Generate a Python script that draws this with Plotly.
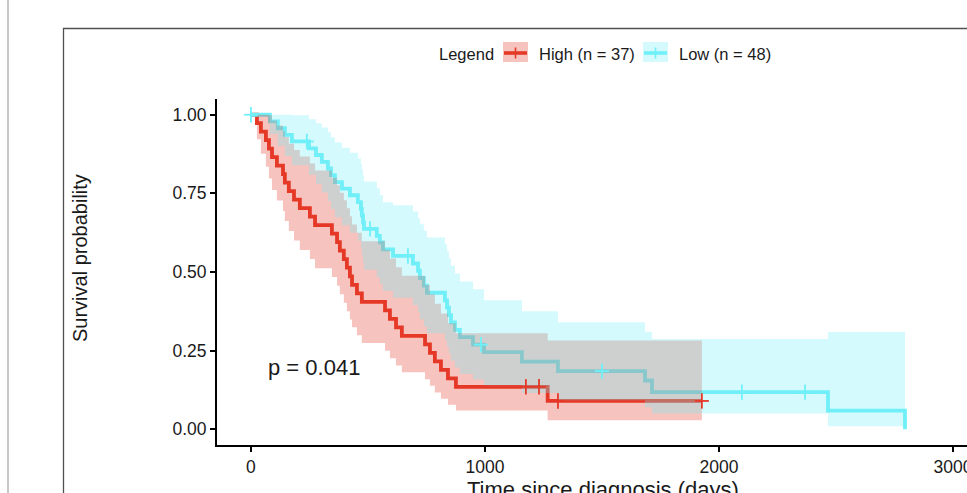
import plotly.graph_objects as go

# ---------------- data ----------------
# High group (n = 37): event times (days), survival after each step, 95% band
high_time = [0, 25.6, 42.7, 64, 77, 90, 111, 137, 145, 162, 184, 209, 252, 274, 346, 368,
             380, 397, 410, 423, 432, 453, 474, 573, 594, 620, 645, 744, 765, 786, 812,
             842, 876, 1268]
high_surv = [1, .973, .946, .919, .892, .865, .838, .811, .784, .757, .730, .703, .676, .649,
             .622, .595, .568, .541, .514, .486, .459, .432, .405, .378, .351, .324, .297,
             .270, .243, .216, .189, .162, .135, .090]
high_upper = [1, 1, 1, 1, .998, .982, .966, .948, .929, .908, .888, .867, .845, .823, .800,
              .776, .752, .728, .703, .677, .651, .625, .598, .571, .543, .515, .488, .459,
              .429, .399, .368, .337, .305, .282]
high_lower = [1, .922, .876, .835, .797, .761, .727, .694, .662, .630, .600, .570, .541, .512,
              .484, .456, .429, .402, .375, .349, .324, .299, .274, .250, .226, .203, .181,
              .159, .138, .117, .097, .078, .060, .029]
high_censor = [1175, 1231, 1312, 1927]

# Low group (n = 48)
low_time = [0, 81, 115, 145, 175, 248, 278, 303, 329, 342, 359, 389, 423, 457, 470, 474, 479,
            483, 538, 551, 564, 607, 692, 714, 722, 739, 752, 829, 838, 846, 855, 872, 893,
            949, 996, 1158, 1312, 1684, 1714, 2466, 2795]
low_surv = [1.0, .979, .957, .936, .915, .893, .872, .850, .829, .808, .786, .765, .744, .722,
            .701, .680, .658, .637, .615, .594, .572, .551, .527, .504, .481, .457, .434, .410,
            .387, .363, .340, .316, .293, .269, .245, .215, .185, .155, .118, .059, 0.0]
low_upper = [1, 1, 1, 1, .998, .986, .973, .959, .944, .928, .912, .895, .879, .861, .843, .825,
             .806, .788, .766, .744, .722, .712, .692, .672, .652, .631, .610, .588, .566, .543,
             .520, .495, .470, .445, .410, .375, .340, .310, .287, .309, .309]
low_lower = [1, .939, .901, .869, .839, .809, .780, .753, .726, .700, .674, .649, .625, .600,
             .576, .553, .529, .507, .483, .462, .440, .418, .395, .372, .350, .327, .305, .283,
             .262, .240, .218, .196, .176, .158, .140, .115, .092, .070, .050, .010, .010]
low_censor = [0, 239, 509, 671, 983, 1500, 2098, 2368]

group_names = ["High (n = 37)", "Low (n = 48)"]
x_ticks = [0, 1000, 2000, 3000]
y_ticks = [0, 0.25, 0.5, 0.75, 1.0]
y_ticktext = ["0.00", "0.25", "0.50", "0.75", "1.00"]
p_text = "p = 0.041"

# ---------------- styling ----------------
RED = "rgb(229,57,40)"
CYAN = "rgb(112,240,248)"
RED_FILL = "rgba(229,57,40,0.30)"
CYAN_FILL = "rgba(112,240,248,0.30)"
FONT = "Liberation Sans, Arial, Helvetica, sans-serif"
TXT = "#1a1a1a"


def extend(times, vals, censor):
    end = max(max(times), max(censor))
    if end > times[-1]:
        return list(times) + [end], list(vals) + [vals[-1]]
    return list(times), list(vals)


def step_at(times, vals, t):
    v = vals[0]
    for ti, vi in zip(times, vals):
        if ti <= t:
            v = vi
    return v


fig = go.Figure()

groups = [
    (high_time, high_surv, high_upper, high_lower, high_censor, RED, RED_FILL),
    (low_time, low_surv, low_upper, low_lower, low_censor, CYAN, CYAN_FILL),
]

# survival step lines (drawn first, ribbons go on top as in ggsurvplot)
for (t, s, u, l, c, col, fcol), name in zip(groups, group_names):
    xt, ys = extend(t, s, c)
    fig.add_trace(go.Scatter(x=xt, y=ys, mode="lines", line=dict(color=col, width=3.8, shape="hv"),
                             name=name, showlegend=False, hoverinfo="skip"))

# confidence ribbons
for (t, s, u, l, c, col, fcol), name in zip(groups, group_names):
    xt, yl = extend(t, l, c)
    _, yu = extend(t, u, c)
    fig.add_trace(go.Scatter(x=xt, y=yl, mode="lines", line=dict(width=0, shape="hv", color=fcol),
                             showlegend=False, hoverinfo="skip"))
    fig.add_trace(go.Scatter(x=xt, y=yu, mode="lines", line=dict(width=0, shape="hv", color=fcol),
                             fill="tonexty", fillcolor=fcol, showlegend=False, hoverinfo="skip"))

# censor marks
for (t, s, u, l, c, col, fcol), name in zip(groups, group_names):
    ys = [step_at(t, s, ci) for ci in c]
    fig.add_trace(go.Scatter(x=c, y=ys, mode="markers",
                             marker=dict(symbol="line-ns", size=11, line=dict(color=col, width=1.8)),
                             showlegend=False, hoverinfo="skip"))
    fig.add_trace(go.Scatter(x=c, y=ys, mode="markers",
                             marker=dict(symbol="line-ew", size=10, line=dict(color=col, width=1.8)),
                             showlegend=False, hoverinfo="skip"))

# ---------------- manual legend (ggplot style keys) ----------------
shapes = []
annotations = []


def px2paper_x(px):
    return (px - 217) / 750.0


def px2paper_y(py):
    return (445 - py) / 346.0


keys = [(503, 528, RED, RED_FILL, 537, group_names[0]), (643, 668, CYAN, CYAN_FILL, 677, group_names[1])]
for x0, x1, col, fcol, tx, label in keys:
    shapes.append(dict(type="rect", xref="paper", yref="paper", x0=px2paper_x(x0), x1=px2paper_x(x1),
                       y0=px2paper_y(62), y1=px2paper_y(42), fillcolor=fcol, line=dict(width=0), layer="above"))
    shapes.append(dict(type="line", xref="paper", yref="paper", x0=px2paper_x(x0 + 1), x1=px2paper_x(x1 - 1),
                       y0=px2paper_y(53), y1=px2paper_y(53), line=dict(color=col, width=3.6), layer="above"))
    xm = (x0 + x1) / 2.0
    shapes.append(dict(type="line", xref="paper", yref="paper", x0=px2paper_x(xm), x1=px2paper_x(xm),
                       y0=px2paper_y(47.5), y1=px2paper_y(58.5), line=dict(color=col, width=1.6), layer="above"))
    annotations.append(dict(text=label, xref="paper", yref="paper", x=px2paper_x(tx), y=px2paper_y(54),
                            xanchor="left", yanchor="middle", showarrow=False,
                            font=dict(family=FONT, size=16.5, color=TXT)))

annotations.append(dict(text="Legend", xref="paper", yref="paper", x=px2paper_x(437), y=px2paper_y(54),
                        xanchor="left", yanchor="middle", showarrow=False,
                        font=dict(family=FONT, size=16.5, color=TXT)))

# p-value
annotations.append(dict(text=p_text, x=65, y=0.195, xref="x", yref="y", xanchor="left", yanchor="middle",
                        showarrow=False, font=dict(family=FONT, size=22, color=TXT)))

# axis titles
annotations.append(dict(text="Survival probability", xref="paper", yref="paper", x=px2paper_x(80),
                        y=px2paper_y(258), textangle=-90, xanchor="center", yanchor="middle",
                        showarrow=False, font=dict(family=FONT, size=20, color=TXT)))
annotations.append(dict(text="Time since diagnosis (days)", xref="paper", yref="paper", x=px2paper_x(603),
                        y=px2paper_y(489.5), xanchor="center", yanchor="middle",
                        showarrow=False, font=dict(family=FONT, size=22, color=TXT)))

# outer frame and viewer edge
shapes.append(dict(type="rect", xref="paper", yref="paper", x0=px2paper_x(63.5), x1=px2paper_x(1100),
                   y0=px2paper_y(700), y1=px2paper_y(28.5), line=dict(color="#505050", width=1.3),
                   fillcolor="rgba(0,0,0,0)", layer="below"))
shapes.append(dict(type="line", xref="paper", yref="paper", x0=px2paper_x(8), x1=px2paper_x(8),
                   y0=px2paper_y(-10), y1=px2paper_y(600), line=dict(color="#c8c8c8", width=2), layer="below"))

fig.update_layout(
    width=967, height=493,
    margin=dict(l=217, r=0, t=99, b=48, pad=0),
    paper_bgcolor="white", plot_bgcolor="white",
    showlegend=False,
    shapes=shapes, annotations=annotations,
    font=dict(family=FONT, color=TXT),
)
fig.update_xaxes(range=[-145, 3060], tickmode="array", tickvals=x_ticks, ticks="outside", ticklen=5,
                 tickwidth=1.5, tickcolor="black", showline=True, linecolor="black", linewidth=2,
                 showgrid=False, zeroline=False, tickfont=dict(family=FONT, size=17.5, color=TXT),
                 automargin=False, ticklabeloverflow="allow")
fig.update_yaxes(range=[-0.05, 1.05], tickmode="array", tickvals=y_ticks, ticktext=y_ticktext,
                 ticks="outside", ticklen=5, tickwidth=1.5, tickcolor="black", showline=True,
                 linecolor="black", linewidth=2, showgrid=False, zeroline=False,
                 tickfont=dict(family=FONT, size=17.5, color=TXT), automargin=False)

fig.write_html("out.html", config={"displayModeBar": False},
               post_script="document.body.style.margin='0';document.body.style.overflow='hidden';")
